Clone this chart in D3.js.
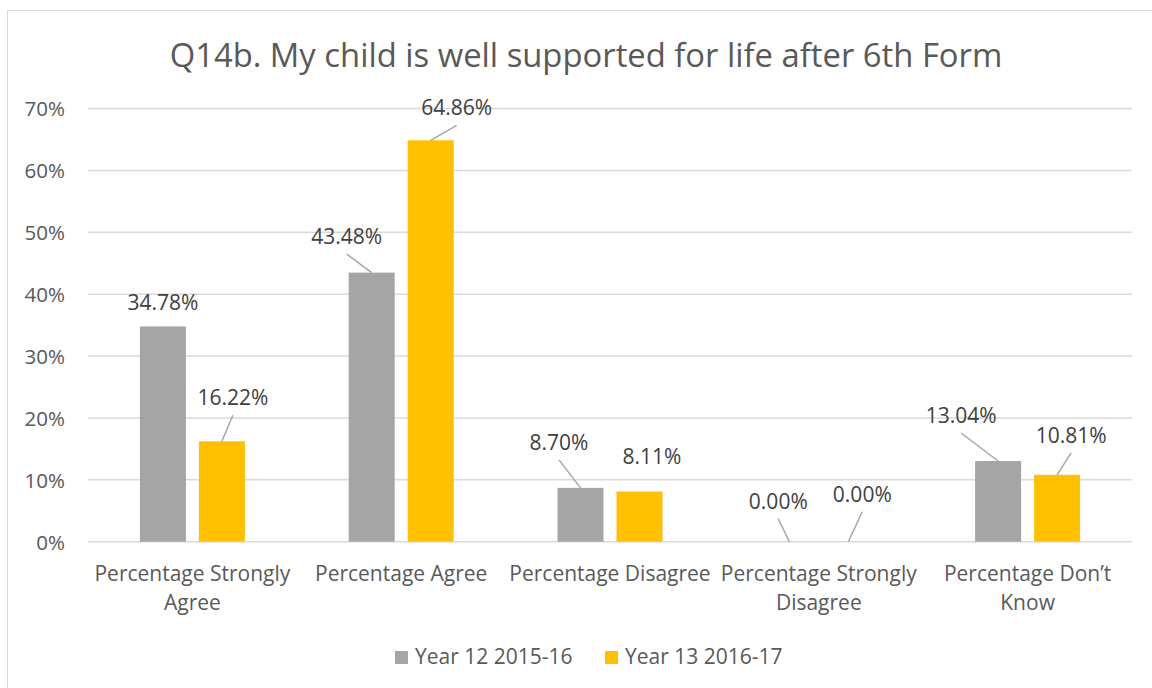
<!DOCTYPE html>
<html>
<head>
<meta charset="utf-8">
<script src="https://cdn.jsdelivr.net/npm/d3@7"></script>
<style>
  html, body { margin: 0; padding: 0; background: #fff; }
  svg { display: block; font-family: "Open Sans", sans-serif; }
</style>
</head>
<body>
<svg id="chart" width="1152" height="688"></svg>
<script>
// ---- data ----
const title = "Q14b. My child is well supported for life after 6th Form";
const categories = [
  ["Percentage Strongly", "Agree"],
  ["Percentage Agree"],
  ["Percentage Disagree"],
  ["Percentage Strongly", "Disagree"],
  ["Percentage Don\u2019t", "Know"]
];
const seriesNames = ["Year 12 2015-16", "Year 13 2016-17"];
const year12Values = [0.3478, 0.4348, 0.0870, 0.0000, 0.1304];
const year13Values = [0.1622, 0.6486, 0.0811, 0.0000, 0.1081];
const yTicks = [0, 0.1, 0.2, 0.3, 0.4, 0.5, 0.6, 0.7];

// ---- styling / layout (not data) ----
const colors = ["#a5a5a5", "#ffc000"];
const textColor = "#595959";
const gridColor = "#d9d9d9";
// data-label placement relative to bar top centre (dx, dy to baseline), per series
const labelOffsets = [
  [[0, -16], [-25, -28.5], [-21.5, -38], [-11, -33], [-37, -38]],
  [[11, -36], [26, -25], [12.5, -27.5], [14, -40], [14, -32]]
];

const svg = d3.select("#chart");
const plot = { left: 88, right: 1132, top: 108.5, bottom: 541.7 };

// chart border
svg.append("rect")
  .attr("x", 7.5).attr("y", 10.5)
  .attr("width", 1160).attr("height", 700)
  .attr("fill", "#fff").attr("stroke", gridColor).attr("stroke-width", 1.2);

const catKeys = categories.map((c, i) => i);
const x0 = d3.scaleBand().domain(catKeys).range([plot.left, plot.right]).padding(0);
const bw = x0.bandwidth();
const groupW = 105;
const x1 = d3.scaleBand().domain([0, 1])
  .range([(bw - groupW) / 2, (bw + groupW) / 2])
  .paddingInner(13 / 59).paddingOuter(0);
const y = d3.scaleLinear().domain([0, 0.7]).range([plot.bottom, plot.top]);

// gridlines
svg.append("g").selectAll("line").data(yTicks).join("line")
  .attr("x1", plot.left).attr("x2", plot.right)
  .attr("y1", d => y(d)).attr("y2", d => y(d))
  .attr("stroke", gridColor).attr("stroke-width", 1.5);

// y axis labels
const yAxis = d3.axisLeft(y).tickValues(yTicks).tickFormat(d3.format(".0%")).tickSize(0).tickPadding(0);
const gy = svg.append("g").attr("transform", "translate(65,0)").call(yAxis);
gy.select(".domain").remove();
gy.selectAll("text")
  .attr("fill", textColor)
  .style("font-family", "'Open Sans', sans-serif")
  .style("font-size", "20.5px")
  .attr("dy", "0.36em");

// title
svg.append("text")
  .attr("x", 586).attr("y", 67)
  .attr("text-anchor", "middle")
  .attr("fill", textColor)
  .style("font-size", "32.8px")
  .text(title);

const seriesVals = [year12Values, year13Values];

// bars
seriesVals.forEach((vals, s) => {
  svg.append("g").selectAll("rect").data(vals).join("rect")
    .attr("x", (d, i) => x0(i) + x1(s))
    .attr("width", x1.bandwidth())
    .attr("y", d => y(d))
    .attr("height", d => y(0) - y(d))
    .attr("fill", colors[s]);
});

// data labels + leader lines
seriesVals.forEach((vals, s) => {
  const g = svg.append("g");
  vals.forEach((v, i) => {
    const bx = x0(i) + x1(s) + x1.bandwidth() / 2;
    const by = y(v);
    const [dx, dy] = labelOffsets[s][i];
    const lx = bx + dx, ly = by + dy;
    if (Math.hypot(dx, dy + 10) > 22) {
      g.append("line")
        .attr("x1", lx).attr("y1", ly + 10)
        .attr("x2", bx).attr("y2", by)
        .attr("stroke", "#a6a6a6").attr("stroke-width", 1.5);
    }
    g.append("text")
      .attr("x", lx).attr("y", ly)
      .attr("text-anchor", "middle")
      .attr("fill", "#404040")
      .style("font-size", "21px")
      .text(d3.format(".2%")(v));
  });
});

// category labels
const cg = svg.append("g");
categories.forEach((lines, i) => {
  const t = cg.append("text")
    .attr("x", x0(i) + bw / 2).attr("y", 581)
    .attr("text-anchor", "middle")
    .attr("fill", textColor)
    .style("font-size", "21px");
  lines.forEach((ln, k) => {
    t.append("tspan").attr("x", x0(i) + bw / 2).attr("dy", k === 0 ? 0 : 29).text(ln);
  });
});

// legend
const legendX = [395, 605];
seriesNames.forEach((name, s) => {
  svg.append("rect")
    .attr("x", legendX[s]).attr("y", 651)
    .attr("width", 13).attr("height", 13)
    .attr("fill", colors[s]);
  svg.append("text")
    .attr("x", legendX[s] + 20).attr("y", 664)
    .attr("fill", textColor)
    .style("font-size", "21px")
    .text(name);
});
</script>
</body>
</html>
